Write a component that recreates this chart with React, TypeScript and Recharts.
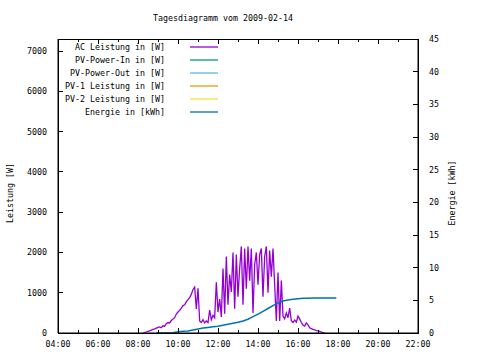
import { LineChart, Line, XAxis, YAxis, Legend } from 'recharts';

const FONT = '"DejaVu Sans Mono", monospace';
const FS = 8.3;

const title = 'Tagesdiagramm vom 2009-02-14';

const xTicks = [4, 5, 6, 7, 8, 9, 10, 11, 12, 13, 14, 15, 16, 17, 18, 19, 20, 21, 22];
const leftTicks = [0, 1000, 2000, 3000, 4000, 5000, 6000, 7000];
const rightTicks = [0, 5, 10, 15, 20, 25, 30, 35, 40, 45];
const leftMax = 7300;

// AC power, 5 minute samples
const acTimes = [
  '08:15', '08:20', '08:25', '08:30', '08:35', '08:40', '08:45', '08:50', '08:55',
  '09:00', '09:05', '09:10', '09:15', '09:20', '09:25', '09:30', '09:35', '09:40', '09:45', '09:50', '09:55',
  '10:00', '10:05', '10:10', '10:15', '10:20', '10:25', '10:30', '10:35', '10:40', '10:45', '10:50', '10:55',
  '11:00', '11:05', '11:10', '11:15', '11:20', '11:25', '11:30', '11:35', '11:40', '11:45', '11:50', '11:55',
  '12:00', '12:05', '12:10', '12:15', '12:20', '12:25', '12:30', '12:35', '12:40', '12:45', '12:50', '12:55',
  '13:00', '13:05', '13:10', '13:15', '13:20', '13:25', '13:30', '13:35', '13:40', '13:45', '13:50', '13:55',
  '14:00', '14:05', '14:10', '14:15', '14:20', '14:25', '14:30', '14:35', '14:40', '14:45', '14:50', '14:55',
  '15:00', '15:05', '15:10', '15:15', '15:20', '15:25', '15:30', '15:35', '15:40', '15:45', '15:50', '15:55',
  '16:00', '16:05', '16:10', '16:15', '16:20', '16:25', '16:30', '16:35', '16:40', '16:45', '16:50', '16:55',
  '17:00', '17:05', '17:10', '17:15', '17:20',
];
const acValues = [
  0, 10, 25, 40, 50, 70, 90, 100, 120,
  140, 150, 130, 180, 170, 230, 260, 250, 310, 350, 380, 470,
  520, 560, 620, 680, 700, 780, 830, 880, 960, 1080, 1140, 600,
  1110, 300, 260, 330, 250, 300, 260, 570, 330, 440, 380, 1260,
  520, 840, 400, 1600, 480, 1900, 700, 1450, 1020, 2000, 600, 1950,
  900, 1600, 2150, 700, 2100, 1100, 2150, 1300, 2100, 500, 1700, 2000,
  1200, 1950, 2100, 900, 1900, 2150, 1000, 2050, 1400, 2100, 1200, 300,
  1500, 300, 1300, 420, 350, 500, 380, 620, 300, 260, 320, 270,
  420, 350, 260, 200, 170, 250, 200, 130, 110, 90, 80, 60,
  50, 40, 25, 10, 0,
];

// cumulative energy in kWh
const energyTimes = [
  '08:55', '09:15', '09:30', '09:45', '10:00', '10:15', '10:30', '10:45', '11:00', '11:15', '11:30', '11:45',
  '12:00', '12:15', '12:30', '12:45', '13:00', '13:15', '13:30', '13:45', '14:00', '14:15', '14:30', '14:45',
  '15:00', '15:15', '15:30', '15:45', '16:00', '16:15', '16:30', '16:45', '17:00', '17:15', '17:30', '17:55',
];
const energyValues = [
  0, 0, 0, 0.05, 0.2, 0.25, 0.3, 0.45, 0.6, 0.75, 0.85, 0.95,
  1.05, 1.2, 1.35, 1.5, 1.65, 1.85, 2.1, 2.5, 2.9, 3.3, 3.75, 4.2,
  4.6, 4.9, 5.05, 5.15, 5.25, 5.3, 5.33, 5.35, 5.36, 5.37, 5.37, 5.37,
];

const seriesNames = {
  ac: 'AC Leistung in [W]',
  pvIn: 'PV-Power-In in [W]',
  pvOut: 'PV-Power-Out in [W]',
  pv1: 'PV-1 Leistung in [W]',
  pv2: 'PV-2 Leistung in [W]',
  energie: 'Energie in [kWh]',
};
const legendOrder = Object.values(seriesNames);

// plot box (chart margins + axis sizes)
const W = 480;
const H = 360;
const margin = { top: 39, right: 12, bottom: 7, left: 8 };
const axisW = 50;
const axisH = 20;
const plotLeft = margin.left + axisW;
const plotRight = W - margin.right - axisW;
const plotTop = margin.top;
const plotBottom = H - margin.bottom - axisH;

const toHours = (s: string) => {
  const [h, m] = s.split(':').map(Number);
  return h + m / 60;
};
const fmtHour = (v: number) => `${String(v).padStart(2, '0')}:00`;

const acData = acTimes.map((t, i) => ({ t: toHours(t), ac: acValues[i] }));
const energyData = energyTimes.map((t, i) => ({ t: toHours(t), energie: energyValues[i] }));

const textProps = { fontSize: FS, fontFamily: FONT, fill: '#000' };

function BottomTick({ x, y, payload }: any) {
  const major = payload.value % 2 === 0;
  return (
    <g>
      <line x1={x} y1={y} x2={x} y2={y - (major ? 5 : 3)} stroke="#000" shapeRendering="crispEdges" />
      {major && (
        <text x={x} y={y + 11} textAnchor="middle" dominantBaseline="central" {...textProps}>
          {fmtHour(payload.value)}
        </text>
      )}
    </g>
  );
}

function LeftTick({ x, y, payload }: any) {
  return (
    <g>
      <line x1={x} y1={y} x2={x + 5} y2={y} stroke="#000" shapeRendering="crispEdges" />
      <text x={x - 11} y={y} textAnchor="end" dominantBaseline="central" {...textProps}>
        {payload.value}
      </text>
    </g>
  );
}

function RightTick({ x, y, payload }: any) {
  return (
    <g>
      <line x1={x} y1={y} x2={x - 5} y2={y} stroke="#000" shapeRendering="crispEdges" />
      <text x={x + 11} y={y} textAnchor="start" dominantBaseline="central" {...textProps}>
        {payload.value}
      </text>
    </g>
  );
}

function LegendBox({ payload }: any) {
  const items = [...(payload || [])].sort(
    (a: any, b: any) => legendOrder.indexOf(a.value) - legendOrder.indexOf(b.value)
  );
  return (
    <svg width={230} height={84} style={{ display: 'block' }}>
      {items.map((p: any, i: number) => {
        const y = 8 + i * 13;
        return (
          <g key={p.value}>
            <text x={165} y={y} textAnchor="end" dominantBaseline="central" {...textProps}>
              {p.value}
            </text>
            <line x1={190} x2={218} y1={y} y2={y} stroke={p.color} strokeWidth={1.3} />
          </g>
        );
      })}
    </svg>
  );
}

// plot frame with mirrored x ticks along the top
function Frame() {
  const sx = (v: number) => plotLeft + ((v - 4) / 18) * (plotRight - plotLeft);
  return (
    <g>
      <rect
        x={plotLeft}
        y={plotTop}
        width={plotRight - plotLeft}
        height={plotBottom - plotTop}
        fill="none"
        stroke="#000"
        strokeWidth={1}
        shapeRendering="crispEdges"
      />
      {xTicks.map(v => (
        <line
          key={v}
          x1={sx(v)}
          x2={sx(v)}
          y1={plotTop}
          y2={plotTop + (v % 2 === 0 ? 5 : 3)}
          stroke="#000"
          shapeRendering="crispEdges"
        />
      ))}
    </g>
  );
}

export default function App() {
  return (
    <div style={{ position: 'absolute', left: 0, top: 0, width: W, height: H, background: '#fff' }}>
      <LineChart width={W} height={H} margin={margin}>
        <XAxis
          xAxisId="bottom"
          dataKey="t"
          type="number"
          domain={[4, 22]}
          ticks={xTicks}
          interval={0}
          height={axisH}
          tickSize={0}
          tickMargin={0}
          tickLine={false}
          axisLine={{ stroke: '#000' }}
          tick={<BottomTick />}
          allowDataOverflow
        />
        <YAxis
          yAxisId="left"
          domain={[0, leftMax]}
          ticks={leftTicks}
          interval={0}
          width={axisW}
          tickSize={0}
          tickMargin={0}
          tickLine={false}
          axisLine={{ stroke: '#000' }}
          tick={<LeftTick />}
          allowDataOverflow
        />
        <YAxis
          yAxisId="right"
          orientation="right"
          domain={[0, 45]}
          ticks={rightTicks}
          interval={0}
          width={axisW}
          tickSize={0}
          tickMargin={0}
          tickLine={false}
          axisLine={{ stroke: '#000' }}
          tick={<RightTick />}
          allowDataOverflow
        />
        <Legend
          layout="vertical"
          align="center"
          verticalAlign="middle"
          content={<LegendBox />}
          wrapperStyle={{ position: 'absolute', left: 0, top: 39, width: 230, height: 84 }}
        />
        <Line
          xAxisId="bottom"
          yAxisId="left"
          data={acData}
          dataKey="ac"
          name={seriesNames.ac}
          stroke="#9400d3"
          strokeWidth={1.3}
          dot={false}
          activeDot={false}
          isAnimationActive={false}
        />
        <Line xAxisId="bottom" yAxisId="left" data={acData} dataKey="pvIn" name={seriesNames.pvIn} stroke="#009e73" dot={false} activeDot={false} isAnimationActive={false} />
        <Line xAxisId="bottom" yAxisId="left" data={acData} dataKey="pvOut" name={seriesNames.pvOut} stroke="#56b4e9" dot={false} activeDot={false} isAnimationActive={false} />
        <Line xAxisId="bottom" yAxisId="left" data={acData} dataKey="pv1" name={seriesNames.pv1} stroke="#e69f00" dot={false} activeDot={false} isAnimationActive={false} />
        <Line xAxisId="bottom" yAxisId="left" data={acData} dataKey="pv2" name={seriesNames.pv2} stroke="#f0e442" dot={false} activeDot={false} isAnimationActive={false} />
        <Line
          xAxisId="bottom"
          yAxisId="right"
          data={energyData}
          dataKey="energie"
          name={seriesNames.energie}
          type="linear"
          stroke="#0072b2"
          strokeWidth={1.5}
          dot={false}
          activeDot={false}
          isAnimationActive={false}
        />
      </LineChart>
      <svg width={W} height={H} style={{ position: 'absolute', left: 0, top: 0, pointerEvents: 'none', zIndex: 10 }}>
        <Frame />
        <text x={223} y={18} textAnchor="middle" dominantBaseline="central" {...textProps}>
          {title}
        </text>
        <text x={10} y={193} transform="rotate(-90 10 193)" textAnchor="middle" dominantBaseline="central" {...textProps}>
          Leistung [W]
        </text>
        <text x={452} y={193} transform="rotate(-90 452 193)" textAnchor="middle" dominantBaseline="central" {...textProps}>
          Energie [kWh]
        </text>
      </svg>
    </div>
  );
}
